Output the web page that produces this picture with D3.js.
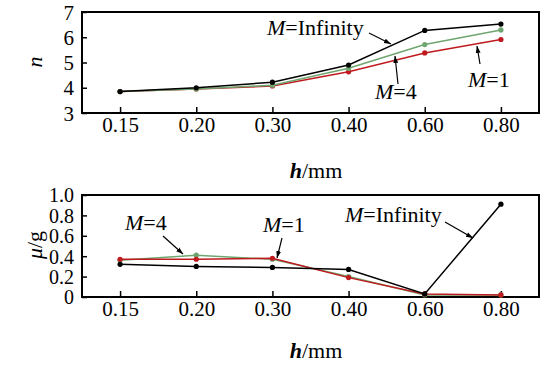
<!DOCTYPE html>
<html><head><meta charset="utf-8">
<script src="https://cdn.jsdelivr.net/npm/d3@7"></script>
<style>
html,body{margin:0;padding:0;background:#fff;}
svg{display:block;}
svg text, svg tspan{font-family:"Liberation Serif","Times New Roman",serif !important;}
</style></head>
<body><svg id="c" width="541" height="367"></svg>
<script>
const categories = ["0.15","0.20","0.30","0.40","0.60","0.80"];
const nInfinity = [3.85, 4.0, 4.22, 4.9, 6.27, 6.52];
const nM4 = [3.85, 3.95, 4.1, 4.77, 5.71, 6.29];
const nM1 = [3.85, 3.95, 4.07, 4.63, 5.38, 5.91];
const muInfinity = [0.32, 0.30, 0.29, 0.27, 0.03, 0.91];
const muM4 = [0.36, 0.41, 0.37, 0.20, 0.02, 0.02];
const muM1 = [0.37, 0.37, 0.38, 0.19, 0.03, 0.02];
const nTicks = [3,4,5,6,7];
const muTicks = [0,0.2,0.4,0.6,0.8,1.0];
const muTickLabels = ["0","0.2","0.4","0.6","0.8","1.0"];

const FONT = "Liberation Serif";
const colors = {inf:"#000000", m4:"#6fa56f", m1:"#c01a1f"};
const svg = d3.select("#c");
const x = d3.scalePoint().domain(categories).range([82,539]).padding(0.5);

function panel(pTop, pBottom, yDomain, ticks, tickFmt, series, ySize) {
  const y = d3.scaleLinear().domain(yDomain).range([pBottom, pTop]);
  const g = svg.append("g");
  const xa = g.append("g").attr("transform",`translate(0,${pBottom})`)
    .call(d3.axisBottom(x).tickSizeInner(-6).tickSizeOuter(0).tickPadding(4));
  const ya = g.append("g").attr("transform",`translate(82,0)`)
    .call(d3.axisLeft(y).tickValues(ticks).tickFormat(tickFmt).tickSizeInner(-5).tickSizeOuter(0).tickPadding(8));
  [xa,ya].forEach(a=>{
    a.attr("font-family",null).attr("font-size",null);
    a.select(".domain").remove();
    a.selectAll("line").attr("stroke","#000").attr("stroke-width",1.5);
    a.selectAll("text").style("font-size","21px").style("font-family",FONT).attr("fill","#000");
  });
  ya.selectAll("text").attr("dy","0.34em").style("font-size",ySize+"px");
  g.append("rect").attr("x",82).attr("y",pTop).attr("width",539-82).attr("height",pBottom-pTop)
    .attr("fill","none").attr("stroke","#000").attr("stroke-width",2);
  const line = d3.line().x((d,i)=>x(categories[i])).y(d=>y(d));
  series.forEach(s=>{
    g.append("path").datum(s.v).attr("d",line).attr("fill","none").attr("stroke",s.c).attr("stroke-width",1.5);
    g.selectAll(null).data(s.v).enter().append("circle")
      .attr("cx",(d,i)=>x(categories[i])).attr("cy",d=>y(d)).attr("r",2.6).attr("fill",s.c);
  });
  return {g,y};
}

svg.append("defs").append("marker").attr("id","ah").attr("viewBox","0 0 10 10")
  .attr("refX",10).attr("refY",5).attr("markerWidth",7).attr("markerHeight",7).attr("orient","auto")
  .attr("markerUnits","userSpaceOnUse")
  .append("path").attr("d","M0,1.5 L10,5 L0,8.5 Z").attr("fill","#000");

const topPanel = panel(12,113,[3,7],nTicks,d3.format("d"),
  [{v:nM1,c:colors.m1},{v:nM4,c:colors.m4},{v:nInfinity,c:colors.inf}], 21);
const botPanel = panel(195,297,[0,1],muTicks,(d,i)=>muTickLabels[i],
  [{v:muM4,c:colors.m4},{v:muM1,c:colors.m1},{v:muInfinity,c:colors.inf}], 20);

function txt(sel){ return sel.style("font-family",FONT).style("font-size","22px").attr("fill","#000"); }
function label(xp, yp, rest) {
  const t = txt(svg.append("text").attr("x",xp).attr("y",yp));
  t.append("tspan").style("font-style","italic").text("M");
  t.append("tspan").text(rest);
}
function arrow(x1,y1,x2,y2){
  svg.append("line").attr("x1",x1).attr("y1",y1).attr("x2",x2).attr("y2",y2)
    .attr("stroke","#000").attr("stroke-width",1.2).attr("marker-end","url(#ah)");
}
label(267,35,"=Infinity"); arrow(369,33,391,44);
label(375,99,"=4"); arrow(398,84,395,56);
label(468,87,"=1"); arrow(480,64,477,46);
label(125,230,"=4"); arrow(163,236,183,254);
label(263,232,"=1"); arrow(282,238,277,258);
label(345,222,"=Infinity"); arrow(445,222,473,238);

function xTitle(yp){
  const t = txt(svg.append("text").attr("x",316).attr("y",yp).attr("text-anchor","middle"));
  t.append("tspan").style("font-style","italic").style("font-weight","bold").text("h");
  t.append("tspan").text("/mm");
}
xTitle(178); xTitle(358);
txt(svg.append("text").attr("transform","translate(42,62) rotate(-90)").attr("text-anchor","middle"))
  .style("font-style","italic").text("n");
const mt = txt(svg.append("text").attr("transform","translate(42,245) rotate(-90)").attr("text-anchor","middle"));
mt.append("tspan").style("font-style","italic").text("μ");
mt.append("tspan").text("/g");
</script></body></html>
